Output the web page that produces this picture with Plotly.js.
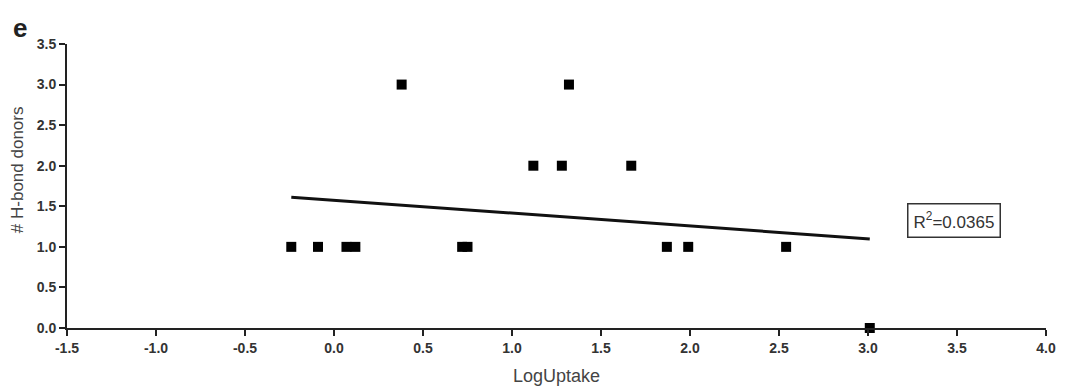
<!DOCTYPE html>
<html>
<head>
<meta charset="utf-8">
<script src="https://cdn.plot.ly/plotly-3.0.1.min.js"></script>
<style>
  html, body { margin: 0; padding: 0; background: #ffffff; }
  #chart { width: 1065px; height: 390px; }
</style>
</head>
<body>
<div id="chart"></div>
<script>
// Log uptake against number of hydrogen-bond donors per compound
const logUptake = [-0.24, -0.09, 0.07, 0.12, 0.72, 0.75, 1.87, 1.99, 2.54, 0.38, 1.32, 1.12, 1.28, 1.67, 3.01];
const hBondDonors = [1, 1, 1, 1, 1, 1, 1, 1, 1, 3, 3, 2, 2, 2, 0];
const xTickValues = [-1.5, -1.0, -0.5, 0.0, 0.5, 1.0, 1.5, 2.0, 2.5, 3.0, 3.5, 4.0];
const yTickValues = [0.0, 0.5, 1.0, 1.5, 2.0, 2.5, 3.0, 3.5];
const rSquaredLabel = 'R<sup>2</sup>=0.0365';

// Least-squares line across the span of the data
function linearFit(xs, ys) {
  const n = xs.length;
  const mx = xs.reduce((a, b) => a + b, 0) / n;
  const my = ys.reduce((a, b) => a + b, 0) / n;
  let sxy = 0, sxx = 0;
  for (let i = 0; i < n; i++) {
    sxy += (xs[i] - mx) * (ys[i] - my);
    sxx += (xs[i] - mx) * (xs[i] - mx);
  }
  const slope = sxy / sxx;
  return { slope: slope, intercept: my - slope * mx };
}
const fit = linearFit(logUptake, hBondDonors);
const xMin = Math.min(...logUptake);
const xMax = Math.max(...logUptake);
const fitX = [xMin, xMax];
const fitY = fitX.map(x => fit.intercept + fit.slope * x);

const tickFont = { family: 'Liberation Sans, Arial, sans-serif', size: 14, color: '#333333', weight: 700 };
const titleFont = { family: 'Liberation Sans, Arial, sans-serif', size: 18, color: '#444444' };

const traces = [
  {
    type: 'scatter', mode: 'lines', x: fitX, y: fitY,
    line: { color: '#111111', width: 3 },
    hoverinfo: 'skip', showlegend: false
  },
  {
    type: 'scatter', mode: 'markers', x: logUptake, y: hBondDonors,
    marker: { symbol: 'square', size: 10, color: '#000000', line: { width: 0 } },
    cliponaxis: false, showlegend: false
  }
];

const layout = {
  width: 1065, height: 390,
  margin: { l: 67, r: 19, t: 44, b: 62 },
  paper_bgcolor: '#ffffff', plot_bgcolor: '#ffffff',
  showlegend: false,
  xaxis: {
    range: [-1.5, 4.0], tickvals: xTickValues, ticktext: xTickValues.map(v => v.toFixed(1)),
    showgrid: false, zeroline: false, showline: true, linecolor: '#222222', linewidth: 2,
    ticks: 'outside', ticklen: 6, tickwidth: 2, tickcolor: '#222222',
    tickfont: tickFont,
    title: { text: 'LogUptake', font: titleFont, standoff: 15 }
  },
  yaxis: {
    range: [0, 3.5], tickvals: yTickValues, ticktext: yTickValues.map(v => v.toFixed(1)),
    showgrid: false, zeroline: false, showline: true, linecolor: '#222222', linewidth: 2,
    ticks: 'outside', ticklen: 6, tickwidth: 2, tickcolor: '#222222',
    tickfont: tickFont, ticklabelstandoff: 0
  },
  annotations: [
    {
      text: '<b>e</b>', xref: 'paper', yref: 'paper', x: -0.048, y: 1.058,
      xanchor: 'center', yanchor: 'middle', showarrow: false,
      font: { family: 'Liberation Sans, Arial, sans-serif', size: 26, color: '#222222' }
    },
    {
      text: '# H-bond donors', xref: 'paper', yref: 'paper', x: -0.051, y: 0.556,
      xanchor: 'center', yanchor: 'middle', textangle: -90, showarrow: false,
      font: { family: 'Liberation Sans, Arial, sans-serif', size: 17, color: '#444444' }
    },
    {
      text: rSquaredLabel, xref: 'x', yref: 'y', x: 3.483, y: 1.32,
      xanchor: 'center', yanchor: 'middle', showarrow: false,
      font: { family: 'Liberation Sans, Arial, sans-serif', size: 17, color: '#333333' },
      bordercolor: '#333333', borderwidth: 1.5, borderpad: 5, bgcolor: '#ffffff'
    }
  ]
};

Plotly.newPlot('chart', traces, layout, { displayModeBar: false, staticPlot: true });
</script>
</body>
</html>
